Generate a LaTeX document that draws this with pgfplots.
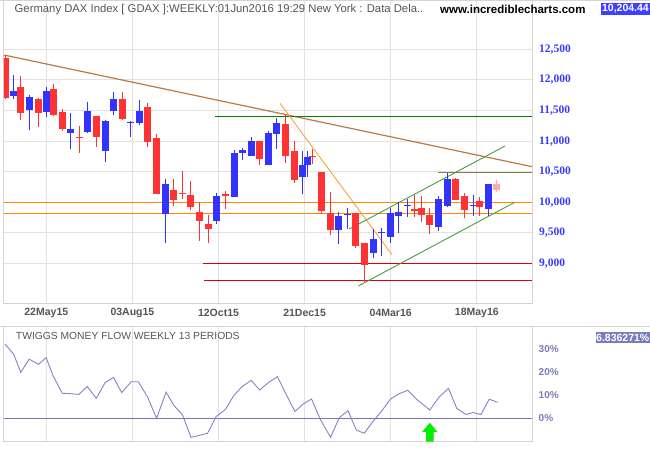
\documentclass[border=0pt]{standalone}
\usepackage{fontspec}
\setmainfont{Liberation Sans}
\newfontfamily\labfont{Liberation Serif}
\usepackage{pgfplots}
\pgfplotsset{compat=1.18}
\usepackage{pgfplotstable}
\definecolor{upc}{HTML}{3333FF}
\definecolor{labc}{HTML}{3A3AFF}
\definecolor{dnc}{HTML}{FF3333}
\definecolor{curc}{HTML}{FFAAAA}
\definecolor{gridc}{HTML}{E2E2E2}
\definecolor{framec}{HTML}{D4D4D4}
\definecolor{brownl}{HTML}{BC7A42}
\definecolor{orangel}{HTML}{FF8800}
\definecolor{orangedl}{HTML}{FFA040}
\definecolor{greenl}{HTML}{008000}
\definecolor{chgreen}{HTML}{44A044}
\definecolor{olivel}{HTML}{808040}
\definecolor{redl}{HTML}{E00000}
\definecolor{tmfc}{HTML}{8484C4}
\definecolor{tmfaxis}{HTML}{7474BC}
\definecolor{titlec}{HTML}{555555}
\definecolor{valbox}{HTML}{3F3FFF}
\definecolor{tmfbox}{HTML}{7B7BBD}
\definecolor{arrowc}{HTML}{00EE00}

\pgfplotstableread{
x o h l c
13.3 11743 12081 11688 11819
29.3 11514 11754 11181 11721
46.3 11481 11885 11394 11819
70.3 11138 11459 10876 11198
87.3 11154 11639 11140 11492
105.3 10843 11345 10663 11329
113.3 11498 11803 11432 11688
130.3 11303 11323 11072 11320
139.3 11301 11672 11263 11492
165.3 9813 10380 9338 10298
216.3 9698 10151 9649 10102
234.3 10091 10854 10091 10805
242.3 10811 10892 10696 10854
251.3 10761 11067 10761 11001
268.3 10614 11170 10614 11132
276.3 11121 11378 10876 11296
302.3 10418 10838 10140 10609
307.3 10614 10838 10418 10740
338.3 9551 9840 9322 9774
347.3 9798 9911 9567 9815
373.3 9175 9567 9087 9398
381.3 9491 9578 9125 9513
390.3 9436 9911 9338 9824
398.3 9780 10003 9502 9840
407.3 9942 10058 9763 9962
438.3 9600 10102 9534 10052
447.3 9943 10478 9927 10380
473.3 9942 10118 9780 9962
488.3 9894 10298 9780 10298
}\upT

\pgfplotstableread{
x o h l c
5.3 12359 12408 11694 11710
20.3 11885 12065 11345 11465
38.3 11688 11705 11230 11465
53.3 11852 11934 11410 11427
62.3 11476 11525 11170 11203
79.3 11068 11247 10811 11050
96.3 11410 11410 10903 11072
122.3 11688 11803 11350 11367
147.3 11558 11623 10909 10990
156.3 11050 11116 10140 10140
173.3 10200 10380 9943 10042
182.3 10152 10511 10058 10134
190.3 10118 10347 9878 9927
199.3 9840 10003 9371 9698
208.3 9649 9796 9338 9567
225.3 10134 10183 9894 10107
259.3 11001 11001 10614 10712
285.3 11279 11443 10647 10761
294.3 10838 11001 10309 10358
312.3 10752 10876 10630 10734
321.3 10494 10494 9813 9862
330.3 9824 10167 9469 9551
355.3 9824 9824 9256 9289
364.3 9338 9338 8700 8978
414.3 9883 10118 9763 9856
421.3 9905 10102 9682 9796
429.3 9796 9911 9485 9633
455.3 10380 10396 10042 10042
464.3 10102 10151 9747 9878
479.3 10014 10091 9780 9927
}\dnT

\pgfplotstableread{
x o h l c
496.3 10298 10363 10172 10204
}\curT

\begin{document}
\begin{tikzpicture}[x=1pt,y=1pt]
\fill[white] (0,0) rectangle (650,450);
\path[use as bounding box] (0,0) rectangle (650,450);

\begin{axis}[
  at={(4pt,146.7pt)}, anchor=south west, scale only axis,
  width=528pt, height=303.3pt,
  xmin=4, xmax=532, ymin=8346, ymax=13308,
  axis line style={framec, line width=1pt},
  xtick={46.3,132.4,218.5,304.6,390.7,476.8},
  xticklabels={},
  ytick={9000,9500,...,12500},
  yticklabels={},
  grid=major, major grid style={gridc, line width=1pt},
  major tick length=0pt,
  clip mode=individual,
]
% drawn lines
\addplot[brownl, line width=1.2pt] coordinates {(4,12408) (532,10581)};
\addplot[greenl, line width=1pt] coordinates {(215,11405) (532,11405)};
\addplot[olivel, line width=1pt] coordinates {(438,10489) (532,10489)};
\addplot[orangel, line width=1pt] coordinates {(4,10000) (532,10000)};
\addplot[orangel, line width=1pt] coordinates {(4,9807) (532,9807)};
\addplot[redl, line width=1pt] coordinates {(203,9000) (532,9000)};
\addplot[redl, line width=1pt] coordinates {(204,8711) (532,8711)};
\addplot[orangedl, line width=0.9pt] coordinates {(280,11618) (391.7,9148)};
\addplot[chgreen, line width=0.9pt] coordinates {(349.3,9562) (505,10919)};
\addplot[chgreen, line width=0.9pt] coordinates {(358.3,8629) (514,9992)};
% wicks
\addplot[draw=none, mark=none, error bars/.cd, y dir=plus, y explicit, error mark=none,
  error bar style={upc, line width=1pt}]
  table[x=x, y=l, y error plus expr=\thisrow{h}-\thisrow{l}] {\upT};
\addplot[draw=none, mark=none, error bars/.cd, y dir=plus, y explicit, error mark=none,
  error bar style={dnc, line width=1pt}]
  table[x=x, y=l, y error plus expr=\thisrow{h}-\thisrow{l}] {\dnT};
\addplot[draw=none, mark=none, error bars/.cd, y dir=plus, y explicit, error mark=none,
  error bar style={curc, line width=1pt}]
  table[x=x, y=l, y error plus expr=\thisrow{h}-\thisrow{l}] {\curT};
% bodies
\addplot[draw=none, mark=none, error bars/.cd, y dir=plus, y explicit, error mark=none,
  error bar style={upc, line width=7pt}]
  table[x=x, y=o, y error plus expr=\thisrow{c}-\thisrow{o}] {\upT};
\addplot[draw=none, mark=none, error bars/.cd, y dir=plus, y explicit, error mark=none,
  error bar style={dnc, line width=7pt}]
  table[x=x, y=c, y error plus expr=\thisrow{o}-\thisrow{c}] {\dnT};
\addplot[draw=none, mark=none, error bars/.cd, y dir=plus, y explicit, error mark=none,
  error bar style={curc, line width=7pt}]
  table[x=x, y=c, y error plus expr=\thisrow{o}-\thisrow{c}] {\curT};
% price scale labels
\foreach \v/\t in {9000/{9,000},9500/{9,500},10000/{10,000},10500/{10,500},11000/{11,000},11500/{11,500},12000/{12,000},12500/{12,500}}{
  \edef\tmp{\noexpand\node[anchor=west, inner sep=0pt, text=labc, font=\noexpand\labfont\noexpand\bfseries\noexpand\fontsize{11.5}{12}\noexpand\selectfont] at (axis cs:539,\v) {\t};}\tmp
}
% date labels
\foreach \d/\t in {46.3/22May15,132.4/03Aug15,218.5/12Oct15,304.6/21Dec15,390.7/04Mar16,476.8/18May16}{
  \edef\tmp{\noexpand\node[anchor=center, inner sep=0pt, text=titlec, font=\noexpand\bfseries\noexpand\fontsize{10.5}{12}\noexpand\selectfont] at (axis cs:\d,8346) [yshift=-10pt] {\t};}\tmp
}
\end{axis}

\begin{axis}[
  at={(4pt,8.3pt)}, anchor=south west, scale only axis,
  width=528pt, height=115pt,
  xmin=4, xmax=532, ymin=-10.17, ymax=39.83,
  axis line style={framec, line width=1pt},
  xtick={46.3,132.4,218.5,304.6,390.7,476.8},
  xticklabels={},
  ytick={0,10,20,30},
  yticklabels={},
  xmajorgrids=true, ymajorgrids=false,
  major grid style={gridc, line width=1pt},
  major tick length=0pt,
  clip mode=individual,
]
\addplot[tmfaxis, line width=1.2pt] coordinates {(4,0) (532,0)};
\addplot[tmfc, line width=0.9pt] coordinates {
(5.0,32.3) (13.7,27.8) (20.8,20.0) (29.1,25.7) (38.6,23.5) (46.1,26.4) (53.2,18.4) (62.3,10.9)
(70.6,10.7) (78.9,10.4) (87.2,13.8) (96.3,8.7) (105.1,15.5) (113.4,17.8) (121.7,11.2) (131.2,15.9)
(138.3,15.9) (147.4,9.4) (156.6,0.0) (166.1,11.4) (173.6,5.8) (182.7,1.3) (191.0,-8.3) (199.3,-7.4)
(207.6,-6.5) (216.0,0.7) (225.5,3.9) (233.8,9.9) (242.1,13.8) (251.2,16.5) (259.6,12.3) (268.3,15.5)
(277.4,18.1) (286.5,10.1) (294.9,3.0) (303.2,6.2) (311.5,8.4) (320.6,-0.7) (330.6,-8.3) (339.3,0.3)
(348.0,3.3) (356.3,-5.1) (364.2,-6.5) (372.9,-1.4) (381.2,2.9) (390.4,8.3) (398.7,10.6) (407.8,12.2)
(416.5,8.3) (429.8,3.6) (439.4,9.4) (448.5,13.0) (456.8,4.3) (465.9,1.7) (473.4,2.5) (480.9,1.6)
(489.2,8.3) (497.5,7.0)};
\addplot[fill=arrowc, draw=none] coordinates {
(422,-6) (429.8,-1.9) (437.6,-6) (433.5,-6) (433.5,-10.17) (426.1,-10.17) (426.1,-6)} -- cycle;
\foreach \v in {0,10,20,30}{
  \edef\tmp{\noexpand\node[anchor=west, inner sep=0pt, text=tmfbox, font=\noexpand\bfseries\noexpand\fontsize{10}{12}\noexpand\selectfont] at (axis cs:538.5,\v) {\v\noexpand\%};}\tmp
}
\end{axis}

\draw[framec, line width=1pt] (0,123.3) -- (650,123.3);
\draw[framec, line width=1pt] (0,449.5) -- (650,449.5);

\node[anchor=west, text=titlec, inner sep=0pt, font=\fontsize{11.3}{12}\selectfont] at (14.5,440.3)
  {Germany DAX Index [ GDAX ]:WEEKLY:01Jun2016 19:29 New York : Data Dela..};
\node[anchor=west, inner sep=0pt, font=\bfseries\fontsize{11.5}{12}\selectfont] at (440,440.3)
  {www.incrediblecharts.com};
\node[anchor=east, fill=valbox, text=white, inner xsep=1pt, inner ysep=0pt, minimum height=12.5pt,
  font=\bfseries\fontsize{10.5}{12}\selectfont] at (650,441.1) {10,204.44};
\node[anchor=west, text=titlec, inner sep=0pt, font=\fontsize{10.3}{12}\selectfont] at (15.8,114)
  {TWIGGS MONEY FLOW WEEKLY 13 PERIODS};
\node[anchor=east, fill=tmfbox, text=white, inner xsep=0.5pt, inner ysep=0pt, minimum height=11pt,
  font=\bfseries\fontsize{10.5}{12}\selectfont] at (650,112.3) {6.836271\%};
\end{tikzpicture}
\end{document}
